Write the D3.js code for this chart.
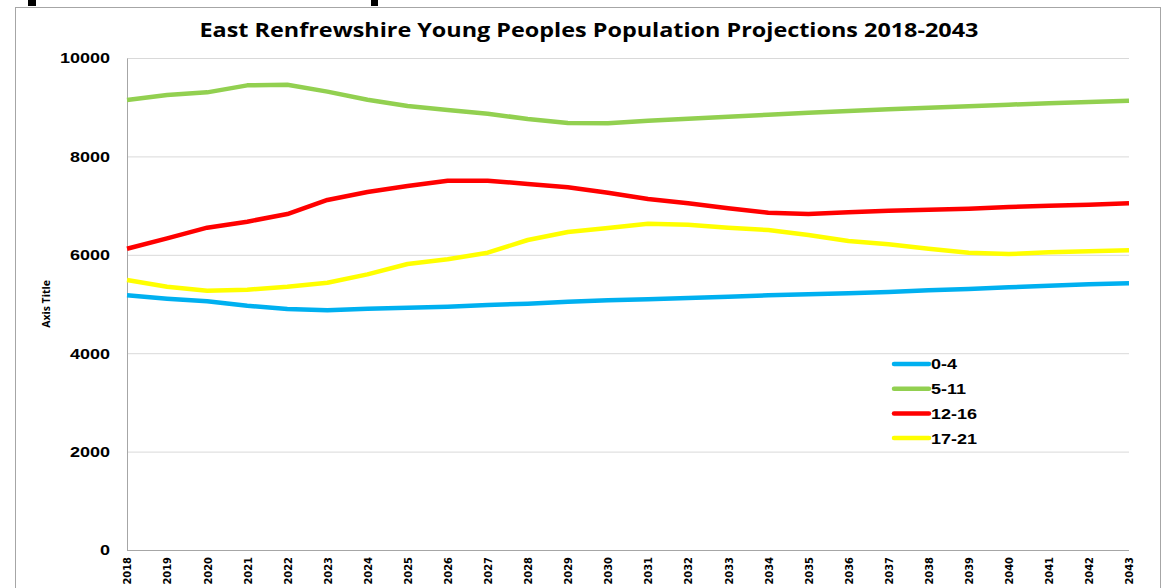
<!DOCTYPE html>
<html><head><meta charset="utf-8">
<script src="https://cdn.jsdelivr.net/npm/d3@7"></script>
<style>body{margin:0;background:#fff;} svg{display:block;}</style>
</head><body>
<script>
const years = d3.range(2018, 2044).map(String);
const yTicks = [0, 2000, 4000, 6000, 8000, 10000];
const seriesNames = ["0-4", "5-11", "12-16", "17-21"];
const seriesColors = ["#00B0F0", "#92D050", "#FF0000", "#FFFF00"];
const age0to4 = [5176,5108,5054,4966,4898,4871,4905,4925,4946,4980,5007,5047,5075,5095,5122,5149,5176,5197,5217,5244,5278,5305,5339,5372,5400,5420];
const age5to11 = [9146,9248,9302,9444,9458,9316,9153,9024,8943,8868,8760,8679,8672,8726,8767,8808,8848,8889,8923,8957,8990,9018,9051,9079,9106,9133];
const age12to16 = [6124,6335,6551,6673,6829,7114,7276,7398,7507,7507,7439,7371,7263,7134,7046,6944,6856,6829,6863,6897,6917,6938,6972,6999,7019,7046];
const age17to21 = [5488,5352,5271,5291,5352,5433,5603,5813,5908,6043,6301,6463,6545,6633,6612,6551,6504,6402,6280,6213,6124,6043,6016,6050,6071,6091];
const seriesValues = [age0to4, age5to11, age12to16, age17to21];

(function () {
const W = 1162, H = 588;
const stretch = 1.2;
const svg = d3.select("body").append("svg").attr("width", W).attr("height", H);

// outer chart area border & top marks
svg.append("rect").attr("x", 15.5).attr("y", 7.5).attr("width", 1145).attr("height", 600)
  .attr("fill", "#fff").attr("stroke", "#a6a6a6").attr("stroke-width", 1);
svg.append("rect").attr("x", 28).attr("y", 0).attr("width", 8).attr("height", 6).attr("fill", "#000");
svg.append("rect").attr("x", 371).attr("y", 0).attr("width", 7).attr("height", 6).attr("fill", "#000");

const pl = 127, pr = 1129, pt = 58, pb = 550;
const x = d3.scalePoint().domain(years).range([pl, pr]);
const y = d3.scaleLinear().domain([0, 10000]).range([pb, pt]);

// gridlines
svg.append("g").selectAll("line").data(yTicks.filter(d => d > 0)).join("line")
  .attr("x1", pl).attr("x2", pr).attr("y1", d => y(d) + 0.5).attr("y2", d => y(d) + 0.5)
  .attr("stroke", "#d9d9d9").attr("stroke-width", 1);

// y axis
const yAxis = svg.append("g").attr("transform", `translate(${pl},0)`)
  .call(d3.axisLeft(y).tickValues(yTicks).tickSize(0).tickPadding(17).tickFormat(d3.format("d")));
yAxis.select(".domain").attr("stroke", "#a6a6a6");
yAxis.selectAll("text").attr("font-family", "Liberation Sans, Arial, sans-serif")
  .attr("font-weight", "bold").attr("font-size", 15).attr("fill", "#000")
  .attr("x", 0).attr("transform", `translate(-17,0) scale(${stretch},1)`);

// x axis
const xAxis = svg.append("g").attr("transform", `translate(0,${pb})`)
  .call(d3.axisBottom(x).tickSize(0).tickPadding(0));
xAxis.select(".domain").attr("stroke", "#a6a6a6").attr("d", `M${pl},0.5H${pr}`);
xAxis.selectAll("text").attr("font-family", "DejaVu Sans Condensed, DejaVu Sans, sans-serif")
  .attr("font-weight", "bold").attr("font-size", 11).attr("fill", "#000")
  .attr("text-anchor", "end").attr("dy", "0.35em")
  .attr("transform", "translate(0,7) rotate(-90)");

// lines
const line = d3.line().x((d, i) => x(years[i])).y(d => y(d));
svg.append("g").selectAll("path").data(seriesValues).join("path")
  .attr("d", line).attr("fill", "none")
  .attr("stroke", (d, i) => seriesColors[i]).attr("stroke-width", 4.5)
  .attr("stroke-linejoin", "round");

// title
svg.append("text").attr("transform", `translate(589,37) scale(${stretch},1)`).attr("text-anchor", "middle")
  .attr("font-family", "Open Sans, sans-serif").attr("font-weight", "bold").attr("font-size", 19.5)
  .attr("fill", "#000").text("East Renfrewshire Young Peoples Population Projections 2018-2043");

// axis title
svg.append("text").attr("transform", "translate(50,304) rotate(-90)").attr("text-anchor", "middle")
  .attr("font-family", "Open Sans, sans-serif").attr("font-weight", "bold").attr("font-size", 10.5)
  .attr("fill", "#000").text("Axis Title");

// legend
const lg = svg.append("g").selectAll("g").data(seriesNames).join("g")
  .attr("transform", (d, i) => `translate(894,${364 + i * 24.7})`);
lg.append("line").attr("x1", 0).attr("x2", 35).attr("y1", 0).attr("y2", 0)
  .attr("stroke", (d, i) => seriesColors[i]).attr("stroke-width", 4.5).attr("stroke-linecap", "round");
lg.append("text").attr("transform", `translate(37,0) scale(${stretch},1)`).attr("dy", "0.36em")
  .attr("font-family", "Liberation Sans, Arial, sans-serif").attr("font-weight", "bold").attr("font-size", 15)
  .attr("fill", "#000").text(d => d);
})();
</script>
</body></html>
